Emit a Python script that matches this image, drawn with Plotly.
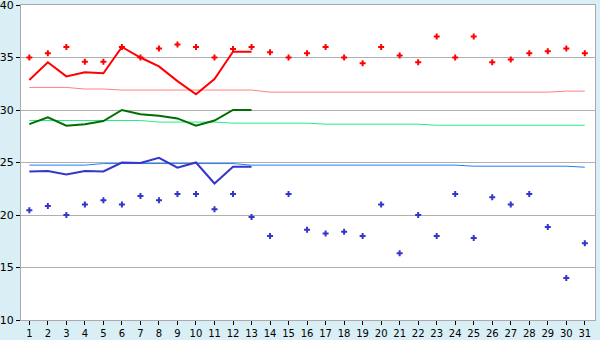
import plotly.graph_objects as go

days = list(range(1, 32))
line_days = list(range(1, 14))

max_points = [35.0, 35.4, 36.0, 34.6, 34.6, 36.0, 35.0, 35.85, 36.25, 36.0,
              35.0, 35.8, 36.0, 35.5, 35.0, 35.4, 36.0, 35.0, 34.45, 36.0,
              35.2, 34.55, 37.0, 35.0, 37.0, 34.55, 34.8, 35.4, 35.6, 35.85, 35.4]
min_points = [20.45, 20.85, 20.0, 21.0, 21.4, 21.0, 21.8, 21.4, 22.0, 22.0,
              20.55, 22.0, 19.8, 18.0, 22.0, 18.6, 18.25, 18.4, 18.0, 21.0,
              16.35, 20.0, 18.0, 22.0, 17.8, 21.7, 21.0, 22.0, 18.85, 14.0, 17.3]

max_line = [32.85, 34.55, 33.2, 33.6, 33.5, 36.0, 35.0, 34.15, 32.75, 31.5, 32.95, 35.55, 35.55]
avg_line = [28.65, 29.3, 28.5, 28.65, 28.95, 30.0, 29.6, 29.45, 29.2, 28.5, 29.0, 30.0, 30.0]
min_line = [24.15, 24.2, 23.85, 24.2, 24.15, 25.0, 24.95, 25.45, 24.5, 25.0, 23.0, 24.6, 24.6]

normal_max = [32.15, 32.15, 32.15, 32.0, 32.0] + [31.9] * 8 + [31.7] * 16 + [31.8, 31.8]
normal_avg = [29.0] * 7 + [28.85] * 4 + [28.75] * 5 + [28.65] * 6 + [28.55] * 9
normal_min = [24.75] * 4 + [24.9] * 8 + [24.75] * 12 + [24.65] * 6 + [24.55]

y_ticks = [10, 15, 20, 25, 30, 35, 40]

fig = go.Figure()
fig.add_trace(go.Scatter(x=days, y=normal_max, mode="lines",
                         line=dict(color="#ff8080", width=1), hoverinfo="skip"))
fig.add_trace(go.Scatter(x=days, y=normal_avg, mode="lines",
                         line=dict(color="#22ee88", width=1), hoverinfo="skip"))
fig.add_trace(go.Scatter(x=days, y=normal_min, mode="lines",
                         line=dict(color="#1a80ff", width=1), hoverinfo="skip"))
fig.add_trace(go.Scatter(x=line_days, y=max_line, mode="lines",
                         line=dict(color="#ff0000", width=2)))
fig.add_trace(go.Scatter(x=line_days, y=avg_line, mode="lines",
                         line=dict(color="#006e00", width=2)))
fig.add_trace(go.Scatter(x=line_days, y=min_line, mode="lines",
                         line=dict(color="#3535cc", width=2)))
fig.add_trace(go.Scatter(x=days, y=max_points, mode="markers",
                         marker=dict(symbol="cross", size=5, color="#ff0000", line=dict(width=0))))
fig.add_trace(go.Scatter(x=days, y=min_points, mode="markers",
                         marker=dict(symbol="cross", size=5, color="#3535cc", line=dict(width=0))))

fig.update_layout(
    width=600, height=340,
    margin=dict(l=21, r=5, t=5, b=20, autoexpand=False),
    paper_bgcolor="#d9eff5",
    plot_bgcolor="#ffffff",
    showlegend=False,
    font=dict(family="DejaVu Sans", size=10, color="#000000"),
)
fig.update_xaxes(
    range=[0.55, 31.55], tickmode="array", tickvals=days,
    ticktext=[str(d) for d in days],
    showgrid=False, zeroline=False, automargin=False,
    showline=True, linecolor="#aaaaaa", linewidth=1, mirror=True,
    ticks="outside", ticklen=4, tickcolor="#000000", tickwidth=1,
    tickfont=dict(size=10), ticklabeloverflow="allow",
)
fig.update_yaxes(
    range=[10, 40], tickmode="array", tickvals=y_ticks,
    ticktext=[str(v) for v in y_ticks],
    showgrid=True, gridcolor="#b0b0b0", gridwidth=1, zeroline=False, automargin=False,
    showline=True, linecolor="#aaaaaa", linewidth=1, mirror=True,
    ticks="outside", ticklen=4, tickcolor="#000000", tickwidth=1,
    tickfont=dict(size=11), ticklabeloverflow="allow",
)

fig.write_html("out.html")
